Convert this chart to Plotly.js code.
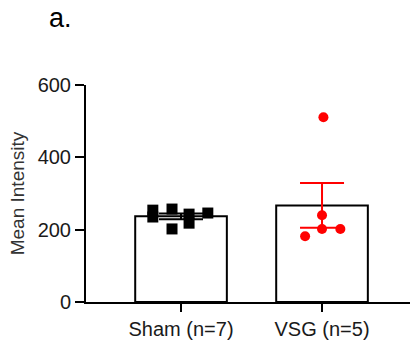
<!DOCTYPE html>
<html><head><meta charset="utf-8">
<script src="https://cdn.plot.ly/plotly-3.0.1.min.js"></script>
<style>html,body{margin:0;padding:0;background:#fff;}#chart{width:416px;height:343px;}</style>
</head><body><div id="chart"></div>
<script>
const groups = ["Sham (n=7)", "VSG (n=5)"];
const groupPos = [0, 1];
const means = [237, 267];
const sems = [8, 62];
const shamValues = [254, 235, 257, 202, 243, 218, 246];
const shamJitter = [-0.20, -0.20, -0.064, -0.064, 0.057, 0.057, 0.19];
const vsgValues = [511, 240, 202, 182, 202];
const vsgJitter = [0.01, 0.0, 0.0, -0.12, 0.13];
const barColors = ["#000000", "#ff0000"];

const traces = [];
for (let i = 0; i < groups.length; i++) {
  traces.push({
    type: "bar", x: [groupPos[i]], y: [means[i]], width: 0.65,
    marker: {color: "#ffffff", line: {color: "#000000", width: 2}},
    error_y: {type: "data", array: [sems[i]], visible: true, color: barColors[i], thickness: 2, width: 22},
    hoverinfo: "skip", showlegend: false
  });
}
traces.push({
  type: "scatter", mode: "markers",
  x: shamValues.map((v, i) => groupPos[0] + shamJitter[i]), y: shamValues,
  marker: {symbol: "square", size: 11, color: "#000000"}, showlegend: false
});
traces.push({
  type: "scatter", mode: "markers",
  x: vsgValues.map((v, i) => groupPos[1] + vsgJitter[i]), y: vsgValues,
  marker: {symbol: "circle", size: 10, color: "#ff0000"}, showlegend: false
});

const layout = {
  width: 416, height: 343,
  margin: {l: 86, r: 6, t: 85, b: 41},
  paper_bgcolor: "#ffffff", plot_bgcolor: "#ffffff",
  barmode: "overlay",
  font: {family: "Liberation Sans, Arial, sans-serif", color: "#000000"},
  title: {text: "a.", x: 0.118, xref: "container", xanchor: "left", y: 0.92, yanchor: "bottom", font: {size: 27, color: "#000"}},
  xaxis: {
    range: [-0.674, 1.624], tickvals: groupPos, ticktext: groups,
    showgrid: false, zeroline: false, showline: true, linecolor: "#000", linewidth: 2,
    ticks: "outside", ticklen: 8, tickwidth: 1.5, tickcolor: "#000",
    tickfont: {size: 20, color: "#1a1a1a"}, fixedrange: true
  },
  yaxis: {
    range: [0, 600], tickvals: [0, 200, 400, 600],
    showgrid: false, zeroline: false, showline: true, linecolor: "#000", linewidth: 2,
    ticks: "outside", ticklen: 9, tickwidth: 2, tickcolor: "#000",
    tickfont: {size: 20, color: "#1a1a1a"},
    title: {text: "Mean Intensity", font: {size: 19, color: "#333"}, standoff: 8}
  }
};
Plotly.newPlot("chart", traces, layout, {displayModeBar: false, staticPlot: true});
</script></body></html>
